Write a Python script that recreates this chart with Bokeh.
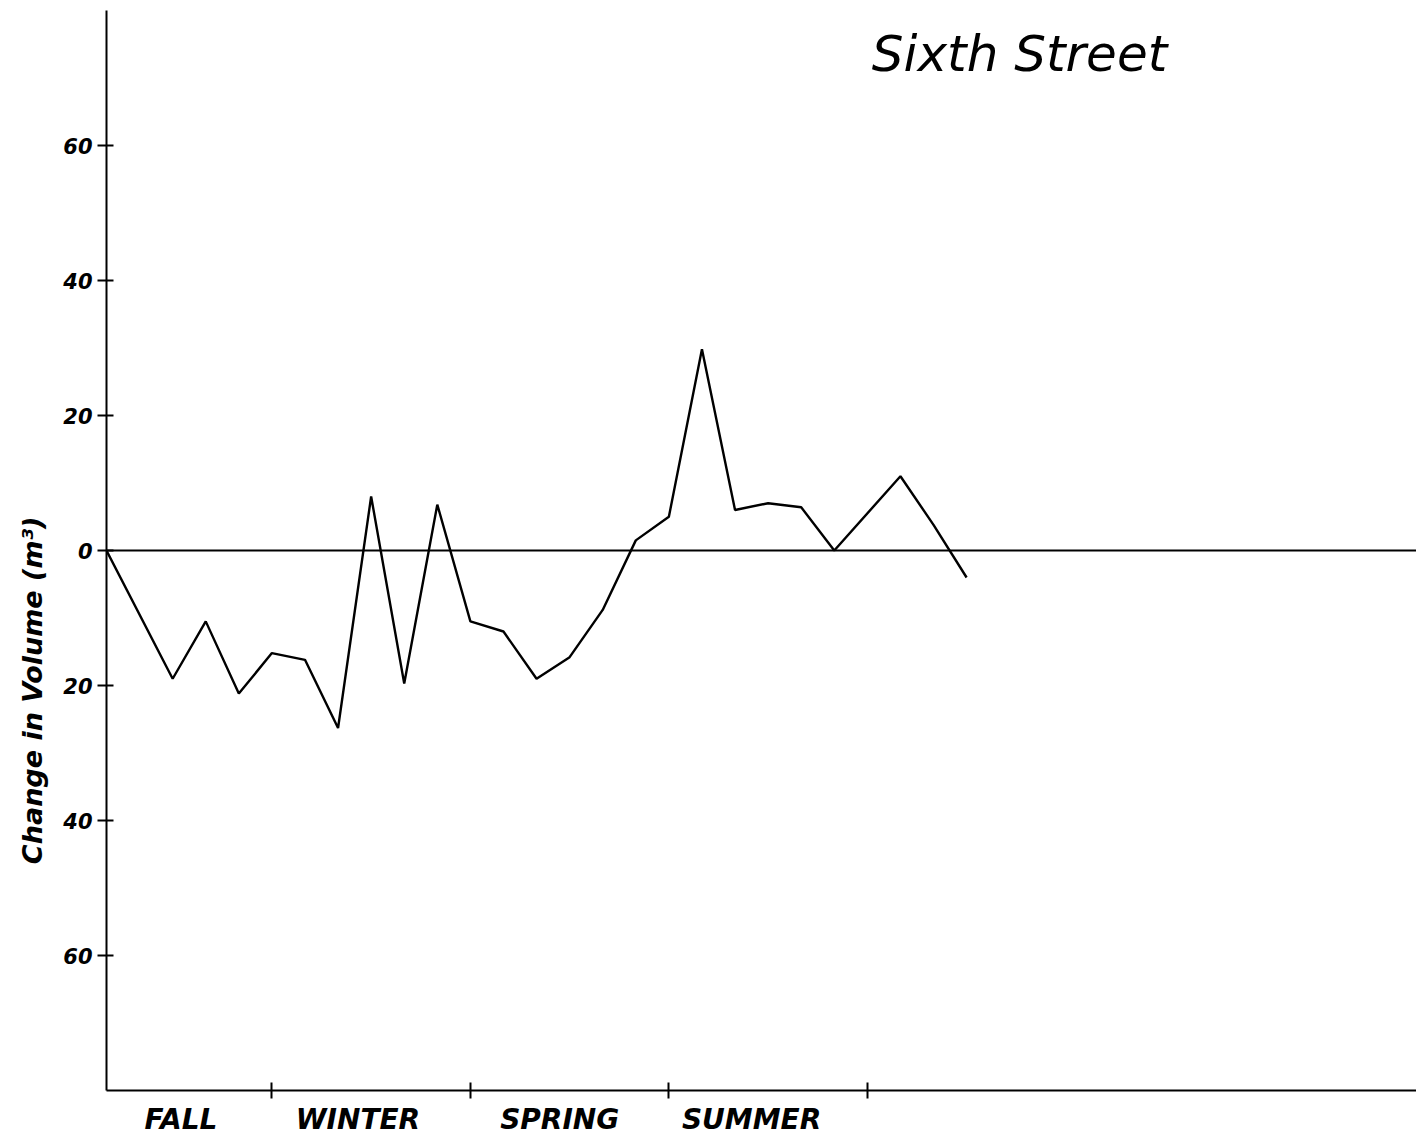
from bokeh.plotting import figure
from bokeh.models import Span, Label, FixedTicker, Range1d, LinearAxis
from bokeh.embed import file_html
from bokeh.resources import INLINE

# ---- data ----
survey_index = [0, 2, 3, 4, 5, 6, 7, 8, 9, 10, 11, 12, 13, 14, 15, 16, 17, 18, 19, 20, 21, 22, 24, 25, 26]
volume_change = [0, -19, -10.5, -21.2, -15.2, -16.2, -26.3, 8, -19.7, 6.8, -10.5, -12, -19, -15.8, -8.8,
                 1.5, 5, 29.8, 6, 7, 6.4, 0, 11, 3.8, -4]
season_bounds = [5, 11, 17, 23]
season_names = ["FALL", "WINTER", "SPRING", "SUMMER"]
season_label_pos = [2.25, 7.6, 13.7, 19.5]
y_ticks = [60, 40, 20, 0, -20, -40, -60]
y_tick_labels = ["60", "40", "20", "0", "20", "40", "60"]
title_text = "Sixth Street"
y_label_text = "Change in Volume (m\u00b3)"
y_label_pos = -20.7

FONT = "DejaVu Sans"

p = figure(width=1416, height=1138, output_backend="svg", toolbar_location=None,
           x_range=Range1d(0, 39.6), y_range=Range1d(-80, 80),
           min_border_left=106, min_border_right=0, min_border_top=10, min_border_bottom=48)
p.outline_line_color = None
p.xgrid.grid_line_color = None
p.ygrid.grid_line_color = None
p.background_fill_color = "white"
p.border_fill_color = "white"

# zero line
p.add_layout(Span(location=0, dimension="width", line_color="black", line_width=2))

# data line
p.line(survey_index, volume_change, line_color="black", line_width=2.4)

# x axis
xa = p.xaxis[0]
xa.ticker = FixedTicker(ticks=season_label_pos, minor_ticks=season_bounds)
xa.major_label_overrides = {v: s for v, s in zip(season_label_pos, season_names)}
xa.major_tick_in = 0
xa.major_tick_out = 0
xa.minor_tick_in = 8
xa.minor_tick_out = 8
xa.minor_tick_line_color = "black"
xa.minor_tick_line_width = 2
xa.axis_line_color = "black"
xa.axis_line_width = 2
xa.major_label_standoff = 4
xa.major_label_text_font = FONT
xa.major_label_text_font_style = "bold italic"
xa.major_label_text_font_size = "28px"
xa.major_label_text_color = "black"

# y axis
ya = p.yaxis[0]
ya.ticker = FixedTicker(ticks=y_ticks, minor_ticks=[])
ya.major_label_overrides = {v: s for v, s in zip(y_ticks, y_tick_labels)}
ya.major_tick_in = 7
ya.major_tick_out = 9
ya.major_tick_line_width = 2
ya.major_tick_line_color = "black"
ya.axis_line_color = "black"
ya.axis_line_width = 2
ya.major_label_standoff = 5
ya.major_label_text_font = FONT
ya.major_label_text_font_style = "bold italic"
ya.major_label_text_font_size = "21px"
ya.major_label_text_color = "black"

# y axis title as a label-only axis (placed off-centre like the original)
ya2 = LinearAxis(ticker=FixedTicker(ticks=[y_label_pos], minor_ticks=[]),
                 major_label_overrides={y_label_pos: y_label_text},
                 major_label_orientation="parallel",
                 major_tick_in=0, major_tick_out=0, axis_line_color=None,
                 major_label_standoff=12,
                 major_label_text_font=FONT, major_label_text_font_style="bold italic",
                 major_label_text_font_size="27px", major_label_text_color="black")
p.add_layout(ya2, "left")

# title
p.add_layout(Label(x=27.6, y=73.6, text=title_text, text_font=FONT, text_font_style="italic",
                   text_font_size="50px", text_align="center", text_baseline="middle",
                   text_color="black"))

open("out.html", "w").write(file_html(p, INLINE))
